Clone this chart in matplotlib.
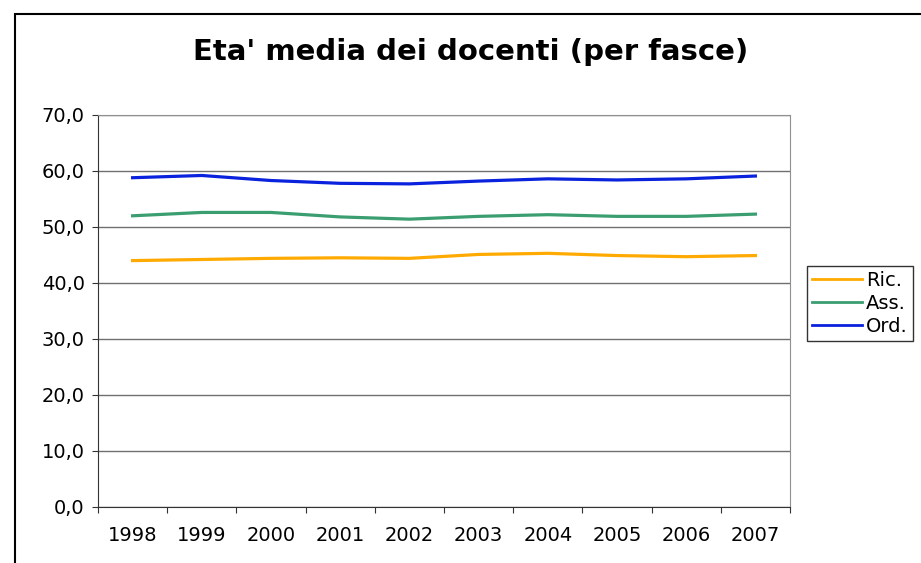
import numpy as np
import matplotlib.pyplot as plt
import matplotlib.patches as patches

# Dati
anni = ["1998", "1999", "2000", "2001", "2002", "2003", "2004", "2005", "2006", "2007"]
ric = [44.0, 44.2, 44.4, 44.5, 44.4, 45.1, 45.3, 44.9, 44.7, 44.9]
ass = [52.0, 52.6, 52.6, 51.8, 51.4, 51.9, 52.2, 51.9, 51.9, 52.3]
ordi = [58.8, 59.2, 58.3, 57.8, 57.7, 58.2, 58.6, 58.4, 58.6, 59.1]
serie = ["Ric.", "Ass.", "Ord."]
colori = ["#FFAA00", "#3A9E70", "#0A22DD"]
yticks = [0, 10, 20, 30, 40, 50, 60, 70]

fig = plt.figure(figsize=(9.21, 5.63), dpi=100)
ax = fig.add_axes([98/921, 1-507/563, 692/921, 392/563])

x = np.arange(len(anni))
for vals, nome, col in zip([ric, ass, ordi], serie, colori):
    ax.plot(x, vals, color=col, lw=2.3, label=nome, solid_joinstyle="round")

ax.set_xlim(-0.5, len(anni) - 0.5)
ax.set_ylim(0, 70)
ax.set_yticks(yticks)
ax.set_yticklabels([f"{v:.1f}".replace(".", ",") for v in yticks], fontsize=14)
ax.grid(axis="y", color="#707070", lw=1)
ax.set_axisbelow(True)

# tacche tra le categorie, etichette al centro
ax.set_xticks(np.arange(-0.5, len(anni), 1.0))
ax.set_xticklabels([])
ax.set_xticks(x, minor=True)
ax.set_xticklabels(anni, minor=True, fontsize=14)
ax.tick_params(axis="x", which="minor", length=0, pad=14)
ax.tick_params(axis="x", which="major", length=4.5, direction="out", color="#333333")
ax.tick_params(axis="y", length=4.5, direction="out", color="#333333", pad=5)

for s in ["left", "bottom"]:
    ax.spines[s].set_color("#333333")
for s in ["top", "right"]:
    ax.spines[s].set_color("#909090")

fig.text(471/921, 1 - 52/563, "Eta' media dei docenti (per fasce)", ha="center",
         va="center", fontsize=21, fontweight="bold")

leg = ax.legend(loc="upper left", bbox_to_anchor=(807/921, 1 - 266/563),
                bbox_transform=fig.transFigure, fontsize=14, frameon=True,
                fancybox=False, edgecolor="black", handlelength=2.6,
                handletextpad=0.2, borderpad=0.25, labelspacing=0.2,
                borderaxespad=0)
leg.get_frame().set_linewidth(1)
for h in leg.get_lines():
    h.set_linewidth(2.0)

# cornice esterna del grafico
fig.patches.append(patches.Rectangle((15/921, -0.05), 1.0, 0.05 + 1 - 14/563,
                                     transform=fig.transFigure, fill=False,
                                     edgecolor="black", lw=1.5))

plt.savefig("out.png", dpi=100)
